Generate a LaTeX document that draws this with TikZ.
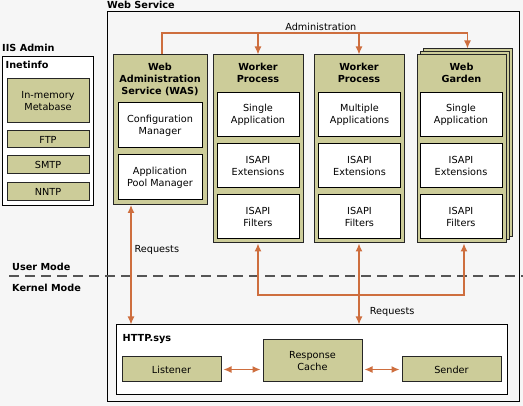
\documentclass[tikz,border=0pt]{standalone}
\usepackage{fontspec}
\setmainfont{DejaVu Sans}
\usetikzlibrary{arrows.meta,positioning}
\definecolor{khaki}{RGB}{204,204,153}
\definecolor{rust}{RGB}{206,110,62}
\definecolor{paper}{RGB}{246,246,246}
\definecolor{dashgray}{RGB}{85,85,85}
\tikzset{
    every node/.style={font=\fontsize{9.7}{12}\selectfont},
    heading/.style={font=\fontsize{9.7}{12}\selectfont\bfseries, inner sep=0pt, align=center},
    outerbox/.style={rectangle, draw=black, line width=1pt, inner sep=0pt},
    panel/.style={rectangle, draw=black!85, fill=khaki, line width=1pt, inner sep=0pt, align=center},
    slot/.style={rectangle, draw=black, fill=white, line width=1pt, inner sep=0pt, align=center, minimum width=82pt, minimum height=44pt},
    link/.style={draw=rust, line width=1.2pt},
    tip/.style={-{Latex[length=8pt,width=7pt]}},
    req/.style={link, {Latex[length=8pt,width=7pt]}-{Latex[length=8pt,width=7pt]}},
    modeline/.style={draw=dashgray, line width=2pt, dash pattern=on 10pt off 6pt}
}
\begin{document}
\begin{tikzpicture}[x=1pt,y=-1pt]
    \fill[paper] (0,0) rectangle (523,406);
    \useasboundingbox (0,0) rectangle (523,406);

    \node[heading, anchor=west] (iis) at (2,48) {IIS Admin};
    \node[outerbox, fill=white, minimum width=91pt, minimum height=149pt,
        label={[heading, anchor=north west, xshift=4pt, yshift=-4pt]north west:Inetinfo}] (inet) at (47.5,131.5) {};
    \node[panel, minimum width=82pt, minimum height=44pt] (meta) at (48,101) {In-memory\\Metabase};
    \node[panel, minimum width=82pt, minimum height=17pt] (ftp) at (48,139.5) {FTP};
    \node[panel, minimum width=82pt, minimum height=18pt] (smtp) [below =7pt of ftp] {SMTP};
    \node[panel, minimum width=82pt, minimum height=18pt] (nntp) [below =8pt of smtp] {NNTP};

    \node[heading, anchor=west] (wstitle) at (107,5) {Web Service};
    \node[outerbox, minimum width=412pt, minimum height=390pt] (ws) at (313,207) {};

    \node[panel, minimum width=94pt, minimum height=150pt,
        label={[heading, anchor=north, yshift=-8pt]north:{Web\\Administration\\Service (WAS)}}] (was) at (160,130) {};
    \node[slot, minimum width=84pt, minimum height=45pt] (cfg) at (160,125.5) {Configuration\\Manager};
    \node[slot, minimum width=84pt, minimum height=45pt] (pool) [below =6pt of cfg] {Application\\Pool Manager};

    \node[panel, minimum width=90pt, minimum height=188pt,
        label={[heading, anchor=north, yshift=-8pt]north:{Worker\\Process}}] (wpa) at (258,149) {};
    \node[slot] (wpa1) at (258,114.5) {Single\\Application};
    \node[slot] (wpa2) [below =6pt of wpa1] {ISAPI\\Extensions};
    \node[slot] (wpa3) [below =6pt of wpa2] {ISAPI\\Filters};

    \node[panel, minimum width=90pt, minimum height=188pt,
        label={[heading, anchor=north, yshift=-8pt]north:{Worker\\Process}}] (wpb) at (359,149) {};
    \node[slot] (wpb1) at (359.5,114.5) {Multiple\\Applications};
    \node[slot] (wpb2) [below =6pt of wpb1] {ISAPI\\Extensions};
    \node[slot] (wpb3) [below =6pt of wpb2] {ISAPI\\Filters};

    \node[panel, minimum width=89pt, minimum height=188pt] (wgb) at (467.5,143) {};
    \node[panel, minimum width=89pt, minimum height=188pt] (wgm) at (464.5,146) {};
    \node[panel, minimum width=89pt, minimum height=188pt,
        label={[heading, anchor=north, yshift=-8pt]north:{Web\\Garden}}] (wgf) at (461.5,149) {};
    \node[slot] (wgf1) at (461,114.5) {Single\\Application};
    \node[slot] (wgf2) [below =6pt of wgf1] {ISAPI\\Extensions};
    \node[slot] (wgf3) [below =6pt of wgf2] {ISAPI\\Filters};

    \node[outerbox, fill=white, minimum width=391pt, minimum height=70pt,
        label={[heading, anchor=north west, xshift=7pt, yshift=-10pt]north west:HTTP.sys}] (http) at (311.5,360) {};
    \node[panel, minimum width=99pt, minimum height=25pt] (lis) at (171.5,369.5) {Listener};
    \node[panel, minimum width=99pt, minimum height=42pt] (cache) at (312.5,361) {Response\\Cache};
    \node[panel, minimum width=99pt, minimum height=25pt] (send) at (451.5,369.5) {Sender};

    \node[heading, anchor=west] (umode) at (12,267) {User Mode};
    \node[heading, anchor=west] (kmode) at (12,288) {Kernel Mode};
    \coordinate (dashl) at (9,276);
    \coordinate (dashr) at (523,276);
    \draw[modeline] (dashl) -- (dashr);

    \coordinate (adm) at (162,33);
    \draw[link, tip] (adm |- was.north) -- (adm)
        -| node[pos=.26, above, inner sep=1.5pt] (admtext) {Administration} (wgb.north);
    \draw[link, tip] (adm -| wpa.north) -- (wpa.north);
    \draw[link, tip] (adm -| wpb.north) -- (wpb.north);

    \coordinate (reqa) at (131,205);
    \draw[req] (reqa) -- (reqa |- http.north) node[pos=.38, right, inner sep=3pt] (reqtext) {Requests};
    \coordinate (bus) at (258,295);
    \draw[req] (wpa.south) -- (bus) -| ([xshift=2.5pt]wgf.south);
    \draw[req] (wpb.south) -- (wpb.south |- http.north) node[pos=.85, right=7pt] (reqtextb) {Requests};

    \draw[req, shorten <=2pt, shorten >=2pt] (lis.east) -- (lis.east -| cache.west);
    \draw[req, shorten <=2pt, shorten >=2pt] (cache.east |- send.west) -- (send.west);
\end{tikzpicture}
\end{document}
